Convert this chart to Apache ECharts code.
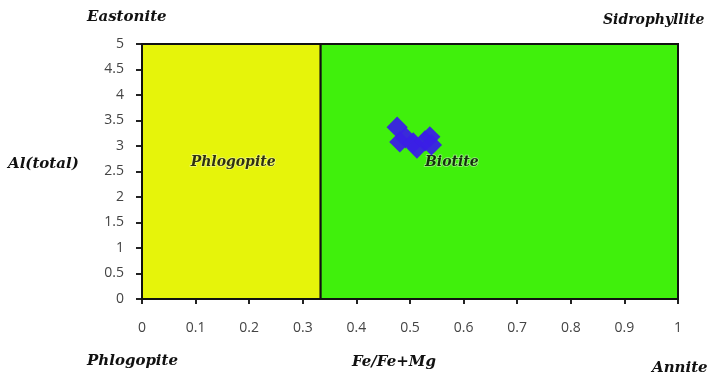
<!DOCTYPE html>
<html>
<head>
<meta charset="utf-8">
<script src="https://cdn.jsdelivr.net/npm/echarts@6/dist/echarts.min.js"></script>
<style>html,body{margin:0;padding:0;background:#fff}#c{width:715px;height:378px}</style>
</head>
<body>
<div id="c"></div>
<script>
var xTicks = [0, 0.1, 0.2, 0.3, 0.4, 0.5, 0.6, 0.7, 0.8, 0.9, 1];
var yTicks = [0, 0.5, 1, 1.5, 2, 2.5, 3, 3.5, 4, 4.5, 5];
var feRatio = [0.476, 0.481, 0.492, 0.506, 0.513, 0.528, 0.537, 0.540];
var alTotal = [3.37, 3.08, 3.16, 3.06, 2.96, 3.10, 3.18, 3.02];
var regionNames = ["Phlogopite", "Biotite"];
var regionBounds = [[0, 1/3], [1/3, 1]];
var regionLabelPos = [[0.17, 2.68], [0.578, 2.67]];
var cornerNames = ["Eastonite", "Sidrophyllite", "Phlogopite", "Annite"];
var xName = "Fe/Fe+Mg";
var yName = "Al(total)";

var chart = echarts.init(document.getElementById('c'), null, {renderer: 'canvas'});
var serif = '"DejaVu Serif", "Liberation Serif", serif';
var labelFont = {fontFamily: serif, fontWeight: 'bold', fontStyle: 'italic', fill: '#111'};
function txt(t, l, tp, fs) {
  return {type: 'text', left: l, top: tp, style: Object.assign({text: t, fontSize: fs || 15}, labelFont)};
}

chart.setOption({
  animation: false,
  grid: {left: 142, right: 37, top: 44, bottom: 79},
  xAxis: {
    type: 'value', min: 0, max: 1, interval: 0.1,
    axisLine: {show: true, onZero: false, lineStyle: {color: '#111', width: 2}},
    axisTick: {show: true, length: 5, lineStyle: {color: '#222', width: 2}},
    splitLine: {show: false},
    axisLabel: {margin: 22, fontSize: 14, color: '#444', fontFamily: '"Open Sans", sans-serif',
      formatter: function (v) { return String(Math.round(v * 10) / 10); }}
  },
  yAxis: {
    type: 'value', min: 0, max: 5, interval: 0.5,
    axisLine: {show: true, onZero: false, lineStyle: {color: '#111', width: 2}},
    axisTick: {show: true, length: 6, lineStyle: {color: '#222', width: 2}},
    splitLine: {show: false},
    axisLabel: {margin: 18, fontSize: 14, color: '#444', fontFamily: '"Open Sans", sans-serif'}
  },
  graphic: [
    txt(cornerNames[0], 87, 10),
    txt(cornerNames[1], 603, 13, 14),
    txt(cornerNames[2], 87, 354),
    txt(cornerNames[3], 652, 361),
    txt(xName, 352, 355),
    txt(yName, 8, 157)
  ],
  series: [
    {
      type: 'scatter',
      name: 'regions',
      data: [],
      silent: true,
      markArea: {
        silent: true,
        data: regionBounds.map(function (b, i) {
          return [
            {xAxis: b[0], yAxis: 0, itemStyle: {color: i === 0 ? '#e6f40a' : '#40f00c', borderColor: '#111', borderWidth: 2}},
            {xAxis: b[1], yAxis: 5}
          ];
        }),
        label: {show: false}
      },
      z: 1
    },
    {
      type: 'scatter',
      name: 'labels',
      silent: true,
      symbolSize: 0,
      data: regionLabelPos.map(function (p, i) { return {value: p, name: regionNames[i]}; }),
      label: {
        show: true, position: 'inside',
        formatter: function (p) { return p.name; },
        fontFamily: serif, fontWeight: 'bold', fontStyle: 'italic', fontSize: 14, color: '#000',
        textBorderColor: 'rgba(255,255,255,0.55)', textBorderWidth: 1.5
      },
      z: 3
    },
    {
      type: 'scatter',
      name: 'samples',
      data: feRatio.map(function (x, i) { return [x, alTotal[i]]; }),
      symbol: 'rect',
      symbolRotate: 45,
      symbolSize: 15,
      itemStyle: {color: '#3a1fe6', opacity: 0.95},
      z: 4
    }
  ]
});
</script>
</body>
</html>
